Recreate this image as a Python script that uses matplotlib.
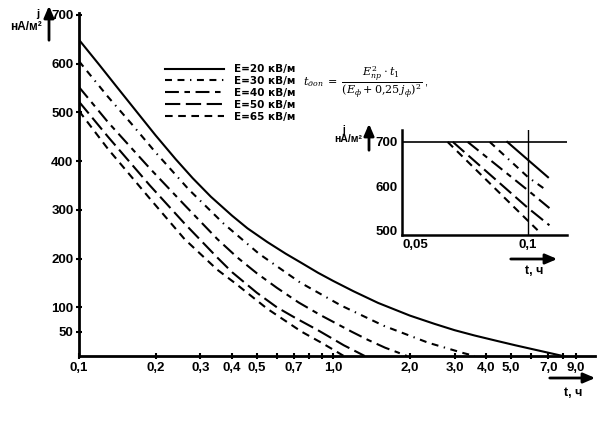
import matplotlib
matplotlib.use('Agg')
import matplotlib.pyplot as plt
from matplotlib.lines import Line2D
from matplotlib.ticker import FixedLocator, NullFormatter

plt.rcParams['font.family'] = ['Liberation Sans', 'DejaVu Sans']
plt.rcParams['mathtext.fontset'] = 'dejavuserif'
plt.rcParams['lines.scale_dashes'] = False

# main curves: t (hours) and j (nA/m2)
t20 = [0.1, 0.12, 0.14, 0.17, 0.2, 0.24, 0.28, 0.33, 0.4, 0.46, 0.55, 0.65, 0.75, 0.87,
       1.0, 1.2, 1.5, 2.0, 2.5, 3.0, 3.6, 4.4, 5.2, 6.2, 8.0]
j20 = [649, 598, 554, 499, 453, 404, 365, 327, 288, 262, 234, 210, 191, 171,
       154, 133, 109, 83, 66, 53, 42, 31, 22, 13, 0]

t30 = [0.1, 0.13, 0.16, 0.2, 0.27, 0.37, 0.51, 0.74, 1.07, 1.58, 2.37, 3.25, 3.6]
j30 = [605, 532, 478, 418, 342, 272, 210, 151, 104, 62, 27, 6, 0]

t40 = [0.1, 0.13, 0.19, 0.26, 0.35, 0.42, 0.5, 0.6, 0.73, 0.89, 1.0, 1.18, 1.37, 1.6, 1.8, 1.95]
j40 = [552, 480, 385, 310, 240, 202, 170, 140, 110, 84, 70, 50, 33, 17, 7, 0]

t50 = [0.1, 0.13, 0.19, 0.26, 0.35, 0.4, 0.5, 0.6, 0.71, 0.87, 0.96, 1.1, 1.21, 1.33]
j50 = [522, 450, 350, 272, 202, 172, 130, 100, 78, 53, 40, 22, 11, 0]

t65 = [0.1, 0.13, 0.19, 0.26, 0.35, 0.41, 0.55, 0.75, 0.9, 1.0, 1.1]
j65 = [503, 425, 323, 240, 177, 150, 97, 50, 27, 13, 0]

# inset (zoomed start of the curves)
ti20 = [0.088, 0.1, 0.113]
ji20 = [700, 659, 620]
ti30 = [0.079, 0.1, 0.110]
ji30 = [700, 620, 595]
ti40 = [0.069, 0.1, 0.114]
ji40 = [700, 590, 550]
ti50 = [0.063, 0.1, 0.114]
ji50 = [700, 550, 511]
ti65 = [0.061, 0.1, 0.106]
ji65 = [700, 521, 500]

labels = ['E=20 кВ/м', 'E=30 кВ/м', 'E=40 кВ/м', 'E=50 кВ/м', 'E=65 кВ/м']
styles = ['-', (0, (5, 4, 5, 4, 1, 4)), (0, (10, 4, 4, 4)), (0, (11, 4)), (0, (5.5, 4))]

xticks = [0.1, 0.2, 0.3, 0.4, 0.5, 0.7, 1.0, 2.0, 3.0, 4.0, 5.0, 7.0, 9.0]
xlabels = ['0,1', '0,2', '0,3', '0,4', '0,5', '0,7', '1,0', '2,0', '3,0', '4,0', '5,0', '7,0', '9,0']
yticks = [50, 100, 200, 300, 400, 500, 600, 700]

W, H = 605, 426
fig = plt.figure(figsize=(6.05, 4.26), dpi=100)


def box(l, r, b, t):
    # pixel box (image coords) -> figure fraction
    return [l / W, 1 - b / H, (r - l) / W, (b - t) / H]


# main axes
ax = fig.add_axes(box(79, 595, 356, 13))
for t, j, ls in zip([t20, t30, t40, t50, t65], [j20, j30, j40, j50, j65], styles):
    ax.plot(t, j, color='black', lw=1.5, linestyle=ls)
ax.set_xscale('log')
ax.set_xlim(0.1, 10.7)
ax.set_ylim(0, 704)
ax.spines['top'].set_visible(False)
ax.spines['right'].set_visible(False)
ax.spines['left'].set_linewidth(2)
ax.spines['bottom'].set_linewidth(2)
ax.xaxis.set_major_locator(FixedLocator(xticks))
ax.xaxis.set_minor_locator(FixedLocator([0.6, 0.8, 0.9, 6.0, 8.0]))
ax.xaxis.set_minor_formatter(NullFormatter())
ax.set_xticklabels(xlabels, fontsize=9.5, fontweight='bold')
ax.set_yticks(yticks)
ax.set_yticklabels([str(v) for v in yticks], fontsize=9.5, fontweight='bold')
ax.tick_params(which='both', direction='inout', length=4, width=1.5, pad=2)

leg_handles = [Line2D([0], [0], color='black', lw=1.5, linestyle=ls) for ls in styles]
ax.legend(leg_handles, labels, loc='upper left', bbox_to_anchor=(160 / W, 1 - 59 / H),
          bbox_transform=fig.transFigure, frameon=False, handlelength=5.6,
          handletextpad=1.0, labelspacing=0.18, borderpad=0,
          prop={'family': 'DejaVu Sans', 'size': 7.5, 'weight': 'bold'})

# inset
axi = fig.add_axes(box(402, 567, 235, 130))
for t, j, ls in zip([ti20, ti30, ti40, ti50, ti65], [ji20, ji30, ji40, ji50, ji65], styles):
    axi.plot(t, j, color='black', lw=1.5, linestyle=ls)
axi.set_xscale('log')
axi.set_xlim(0.0461, 0.127)
axi.set_ylim(489, 727)
axi.axhline(700, color='black', lw=1.2)
axi.axvline(0.1, color='black', lw=1.0)
axi.spines['top'].set_visible(False)
axi.spines['right'].set_visible(False)
axi.spines['left'].set_linewidth(1.8)
axi.spines['bottom'].set_linewidth(1.8)
axi.xaxis.set_major_locator(FixedLocator([0.05, 0.1]))
axi.xaxis.set_minor_locator(FixedLocator([]))
axi.set_xticklabels(['0,05', '0,1'], fontsize=9.5, fontweight='bold')
axi.set_yticks([500, 600, 700])
axi.set_yticklabels(['500', '600', '700'], fontsize=9.5, fontweight='bold')
axi.tick_params(which='both', length=0, pad=3)

# axis titles and arrows
def ftext(x, y, s, **kw):
    fig.text(x / W, 1 - y / H, s, **kw)


def farrow(x1, y1, x2, y2):
    ax.annotate('', xy=(x2, H - y2), xytext=(x1, H - y1), xycoords='figure pixels',
                textcoords='figure pixels',
                arrowprops=dict(arrowstyle='-|>,head_length=0.7,head_width=0.3',
                                lw=2, color='black'))


ftext(38, 14, 'j', fontsize=8, fontweight='bold', ha='center', va='center')
ftext(26, 27, 'нА/м²', fontsize=8.5, fontweight='bold', ha='center', va='center')
farrow(49, 43, 49, 3)
ftext(344, 130, 'j', fontsize=7, fontweight='bold', ha='center', va='center')
ftext(348, 139, 'нА/м²', fontsize=7.5, fontweight='bold', ha='center', va='center')
farrow(369, 153, 369, 121)

farrow(547, 378, 598, 378)
ftext(573, 393, 't, ч', fontsize=9, fontweight='bold', ha='center', va='center')
farrow(508, 259, 560, 259)
ftext(534, 271, 't, ч', fontsize=9, fontweight='bold', ha='center', va='center')

ftext(303, 82, r'$t_{доп}\;=\;\dfrac{E_{пр}^{2}\cdot t_1}{(E_ф+0{,}25\,j_ф)^{2}}$ ,',
      fontsize=8, ha='left', va='center')

fig.savefig('out.png', dpi=100)
